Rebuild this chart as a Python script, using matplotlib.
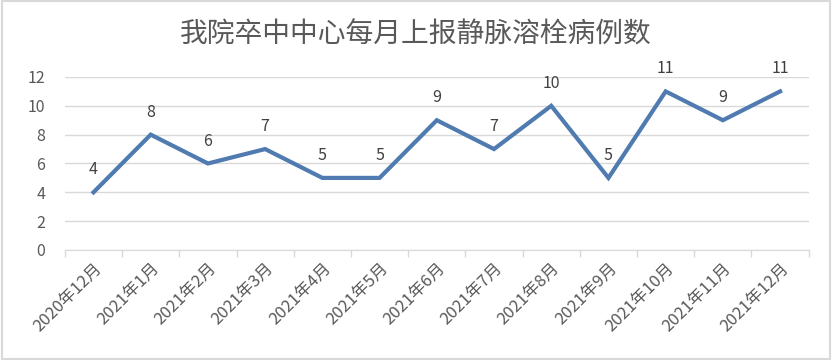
#!/usr/bin/env python3
import matplotlib

matplotlib.use("Agg")
import matplotlib.pyplot as plt
from matplotlib.patches import Rectangle

plt.rcParams["font.family"] = ["Noto Sans CJK SC", "DejaVu Sans"]

TITLE = "我院卒中中心每月上报静脉溶栓病例数"
months = [
    "2020年12月", "2021年1月", "2021年2月", "2021年3月", "2021年4月",
    "2021年5月", "2021年6月", "2021年7月", "2021年8月", "2021年9月",
    "2021年10月", "2021年11月", "2021年12月",
]
cases = [4, 8, 6, 7, 5, 5, 9, 7, 10, 5, 11, 9, 11]
y_ticks = [0, 2, 4, 6, 8, 10, 12]

TEXT = "#595959"
GRID = "#d9d9d9"
LINE = "#4f7bb0"


def main() -> None:
    fig = plt.figure(figsize=(8.32, 3.6), dpi=100)
    fig.patches.append(Rectangle((0.002, 0.004), 0.996, 0.992, transform=fig.transFigure,
                                 fill=False, edgecolor="#d9d9d9", linewidth=1.5))
    ax = fig.add_axes([0.078, 0.3056, 0.894, 0.4806])

    x = list(range(len(months)))
    ax.plot(x, cases, color=LINE, linewidth=3, solid_joinstyle="miter", zorder=3)
    for xi, v in zip(x, cases):
        ax.annotate(str(v), (xi, v), xytext=(0, 10), textcoords="offset points",
                    ha="center", va="bottom", fontsize=11.5, color="#404040")

    ax.set_xlim(-0.5, len(months) - 0.5)
    ax.set_ylim(0, 12)
    ax.set_yticks(y_ticks)
    ax.set_yticklabels([str(t) for t in y_ticks], fontsize=11.5, color=TEXT)
    ax.tick_params(axis="y", length=0, pad=14)
    ax.grid(axis="y", color=GRID, linewidth=1)
    ax.set_axisbelow(True)

    ax.set_xticks(x)
    ax.set_xticklabels(months, rotation=45, ha="right", rotation_mode="anchor",
                       fontsize=12, color=TEXT)
    ax.tick_params(axis="x", which="major", length=0, pad=7)
    ax.set_xticks([i - 0.5 for i in range(len(months) + 1)], minor=True)
    ax.tick_params(axis="x", which="minor", length=5, color=GRID, width=1)

    for side in ("top", "right", "left"):
        ax.spines[side].set_visible(False)
    ax.spines["bottom"].set_color(GRID)

    fig.text(0.5, 0.905, TITLE, ha="center", va="center", fontsize=20, color=TEXT)
    fig.savefig("out.png", dpi=100)
    plt.close(fig)


if __name__ == "__main__":
    main()
